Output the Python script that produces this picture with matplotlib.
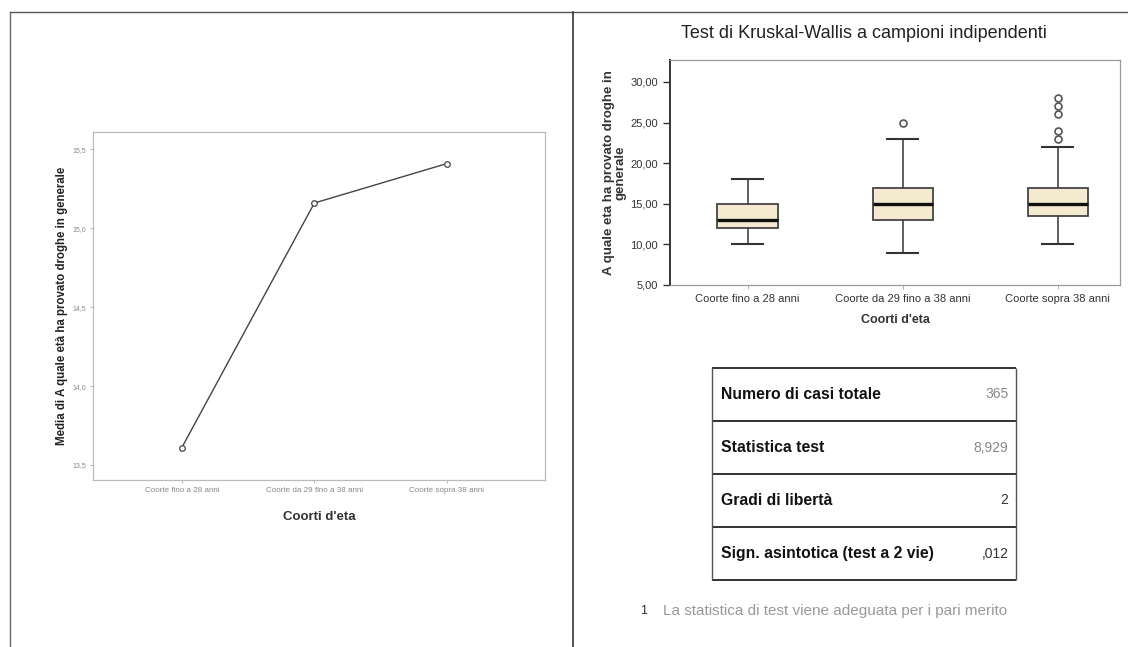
import matplotlib
matplotlib.use('Agg')
import matplotlib.pyplot as plt
from matplotlib.lines import Line2D

plt.rcParams['font.family'] = ['Liberation Sans', 'DejaVu Sans']

# data
coorti = ['Coorte fino a 28 anni', 'Coorte da 29 fino a 38 anni', 'Coorte sopra 38 anni']
medie = [13.61, 15.16, 15.41]
ytick_medie = [13.5, 14.0, 14.5, 15.0, 15.5]

q1 = [12, 13, 13.5]
mediane = [13, 15, 15]
q3 = [15, 17, 17]
baffo_basso = [10, 9, 10]
baffo_alto = [18, 23, 22]
anomali = [[], [25], [23, 24, 26, 27, 28]]
ytick_box = [5, 10, 15, 20, 25, 30]

voci_tabella = ['Numero di casi totale', 'Statistica test', 'Gradi di libertà',
                'Sign. asintotica (test a 2 vie)']
valori_tabella = ['365', '8,929', '2', ',012']

W, H = 1128, 647
fig = plt.figure(figsize=(W / 100, H / 100), dpi=100)


def box(x0, y0, x1, y1):
    # pixel box (top-left origin) -> figure fraction rect
    return [x0 / W, 1 - y1 / H, (x1 - x0) / W, (y1 - y0) / H]


def riga(x0, y0, x1, y1, lw=1.2, c='#333333'):
    fig.add_artist(Line2D([x0 / W, x1 / W], [1 - y0 / H, 1 - y1 / H], lw=lw, color=c))


def virgola(v, nd):
    return f'{v:.{nd}f}'.replace('.', ',')


# page frame from the scan
riga(10, 12, 1128, 12, lw=1.0, c='#555555')
riga(10, 12, 10, 647, lw=1.0, c='#666666')
riga(573, 12, 573, 647, lw=1.2, c='#333333')

# ---- left: line of means ----
ax1 = fig.add_axes(box(93, 132, 545, 480))
x = list(range(len(coorti)))
ax1.plot(x, medie, '-', color='#444444', lw=1.0, marker='o', ms=4,
         mfc='white', mec='#444444', mew=0.9)
ax1.set_xlim(-0.67, 2.74)
ax1.set_ylim(13.405, 15.61)
ax1.set_xticks(x)
ax1.set_xticklabels(coorti, fontsize=5.8, color='#777777')
ax1.set_yticks(ytick_medie)
ax1.set_yticklabels([virgola(v, 1) for v in ytick_medie], fontsize=5, color='#999999')
ax1.tick_params(length=2, width=0.6, colors='#aaaaaa', labelcolor='#888888', pad=3)
for s in ax1.spines.values():
    s.set_color('#bbbbbb')
    s.set_linewidth(0.9)
ax1.set_xlabel("Coorti d'eta", fontsize=9.5, fontweight='bold', color='#333333', labelpad=12)
ax1.set_ylabel('Media di A quale età ha provato droghe in generale', fontsize=8.3,
               fontweight='bold', color='#222222', labelpad=3)

# ---- right: boxplots ----
fig.text(864 / W, 1 - 33 / H, 'Test di Kruskal-Wallis a campioni indipendenti',
         ha='center', va='center', fontsize=13, color='#222222')

ax2 = fig.add_axes(box(670, 60, 1120, 285))
stats = []
for i in range(len(coorti)):
    stats.append({'med': mediane[i], 'q1': q1[i], 'q3': q3[i],
                  'whislo': baffo_basso[i], 'whishi': baffo_alto[i],
                  'fliers': anomali[i], 'label': coorti[i]})
ax2.bxp(stats, positions=x, widths=0.39, patch_artist=True,
        boxprops=dict(facecolor='#f3ead0', edgecolor='#444444', linewidth=1.3),
        medianprops=dict(color='#111111', linewidth=2.4),
        whiskerprops=dict(color='#444444', linewidth=1.2),
        capprops=dict(color='#333333', linewidth=1.5),
        capwidths=0.2,
        flierprops=dict(marker='o', markersize=5, mfc='white', mec='#555555', mew=1.2))
ax2.set_xlim(-0.5, 2.4)
ax2.set_ylim(5, 32.7)
ax2.set_yticks(ytick_box)
ax2.set_yticklabels([virgola(v, 2) for v in ytick_box], fontsize=8, color='#333333')
ax2.set_xticklabels(coorti, fontsize=8, color='#333333')
ax2.tick_params(axis='y', length=5, width=1.0, colors='#333333')
ax2.tick_params(axis='x', length=3, width=0.6, colors='#aaaaaa', labelcolor='#333333')
for k, s in ax2.spines.items():
    s.set_color('#333333' if k == 'left' else '#999999')
    s.set_linewidth(1.4 if k == 'left' else 0.9)
ax2.set_xlabel("Coorti d'eta", fontsize=9, fontweight='bold', color='#333333', labelpad=7)
ax2.set_ylabel('A quale eta ha provato droghe in\ngenerale', fontsize=9.5,
               fontweight='bold', color='#333333', labelpad=3, linespacing=0.9)

# ---- table ----
ax3 = fig.add_axes(box(712, 368, 1016, 580))
ax3.set_xlim(0, 1)
ax3.set_ylim(len(voci_tabella), 0)
ax3.axis('off')
for i, (voce, val) in enumerate(zip(voci_tabella, valori_tabella)):
    ax3.text(0.03, i + 0.5, voce, ha='left', va='center', fontsize=11.3,
             fontweight='bold', color='#111111')
    ax3.text(0.975, i + 0.5, val, ha='right', va='center', fontsize=10,
             color='#888888' if i < 2 else '#333333')
ax3.hlines(range(len(voci_tabella) + 1), 0, 1, color='#222222', lw=1.3, clip_on=False)
ax3.vlines([0, 1], 0, len(voci_tabella), color='#555555', lw=1.0, clip_on=False)

fig.text(640 / W, 1 - 611 / H, '1', ha='left', va='center', fontsize=9, color='#333333')
fig.text(663 / W, 1 - 611 / H, 'La statistica di test viene adeguata per i pari merito',
         ha='left', va='center', fontsize=11, color='#999999')

fig.savefig('out.png', dpi=100)
